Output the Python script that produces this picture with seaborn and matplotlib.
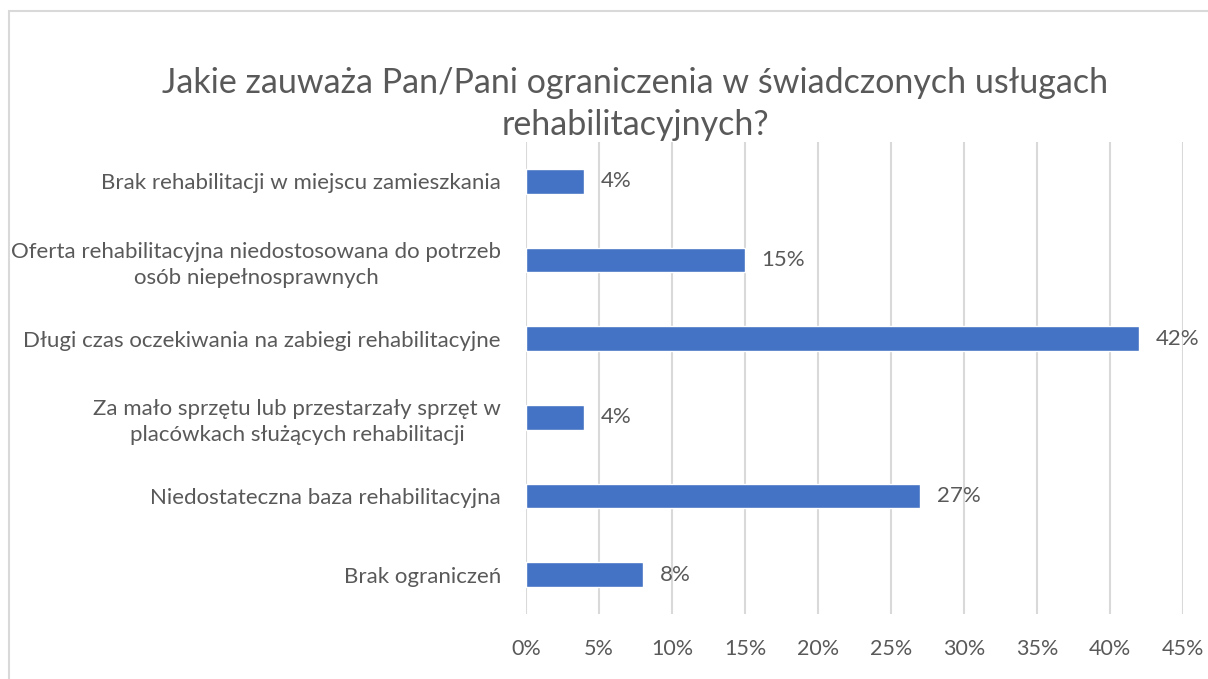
import matplotlib
matplotlib.use("Agg")
import matplotlib.pyplot as plt
import seaborn as sns
import pandas as pd
from matplotlib.patches import Rectangle

categories = [
    "Brak rehabilitacji w miejscu zamieszkania",
    "Oferta rehabilitacyjna niedostosowana do potrzeb\nosób niepełnosprawnych",
    "Długi czas oczekiwania na zabiegi rehabilitacyjne",
    "Za mało sprzętu lub przestarzały sprzęt w\nplacówkach służących rehabilitacji",
    "Niedostateczna baza rehabilitacyjna",
    "Brak ograniczeń",
]
values = [4, 15, 42, 4, 27, 8]
x_ticks = [0, 5, 10, 15, 20, 25, 30, 35, 40, 45]
title = "Jakie zauważa Pan/Pani ograniczenia w świadczonych usługach\nrehabilitacyjnych?"

sns.set_theme(style="white")
plt.rcParams["font.family"] = ["Lato", "DejaVu Sans"]

text_color = "#595959"
bar_color = "#4472C4"
grid_color = "#D9D9D9"

df = pd.DataFrame({"cat": categories, "val": values})

fig = plt.figure(figsize=(12.08, 6.79), dpi=100)
ax = fig.add_axes([0.4354, 0.0957, 0.5439, 0.6952])

sns.barplot(data=df, x="val", y="cat", orient="h", color=bar_color,
            width=0.31, saturation=1, ax=ax)

ax.set_xlim(0, 45)
ax.set_ylim(5.5, -0.5)
ax.set_xticks(x_ticks)
ax.set_xticklabels([f"{t}%" for t in x_ticks])
ax.set_xlabel("")
ax.set_ylabel("")
ax.xaxis.grid(True, color=grid_color, linewidth=1.5)
ax.set_axisbelow(True)
for s in ax.spines.values():
    s.set_visible(False)
ax.tick_params(axis="x", length=0, pad=18, labelsize=15.5, labelcolor=text_color)
ax.tick_params(axis="y", length=0, pad=18, labelsize=16, labelcolor=text_color)
for lbl in ax.get_yticklabels():
    lbl.set_horizontalalignment("right")
    lbl.set_multialignment("center")
    lbl.set_linespacing(1.35)

for i, v in enumerate(values):
    ax.annotate(f"{v}%", xy=(v, i), xytext=(12, 0), textcoords="offset points",
                va="center", ha="left", fontsize=16, color=text_color)

fig.text(0.526, 0.847, title, ha="center", va="center", fontsize=24.5,
         color=text_color, linespacing=1.4)

fig.patches.append(Rectangle((9 / 1208, -0.01), 1.02, 1 - 11 / 679 + 0.01,
                             transform=fig.transFigure, fill=False,
                             edgecolor=grid_color, linewidth=1.5))

fig.savefig("out.png", dpi=100, facecolor="white")
